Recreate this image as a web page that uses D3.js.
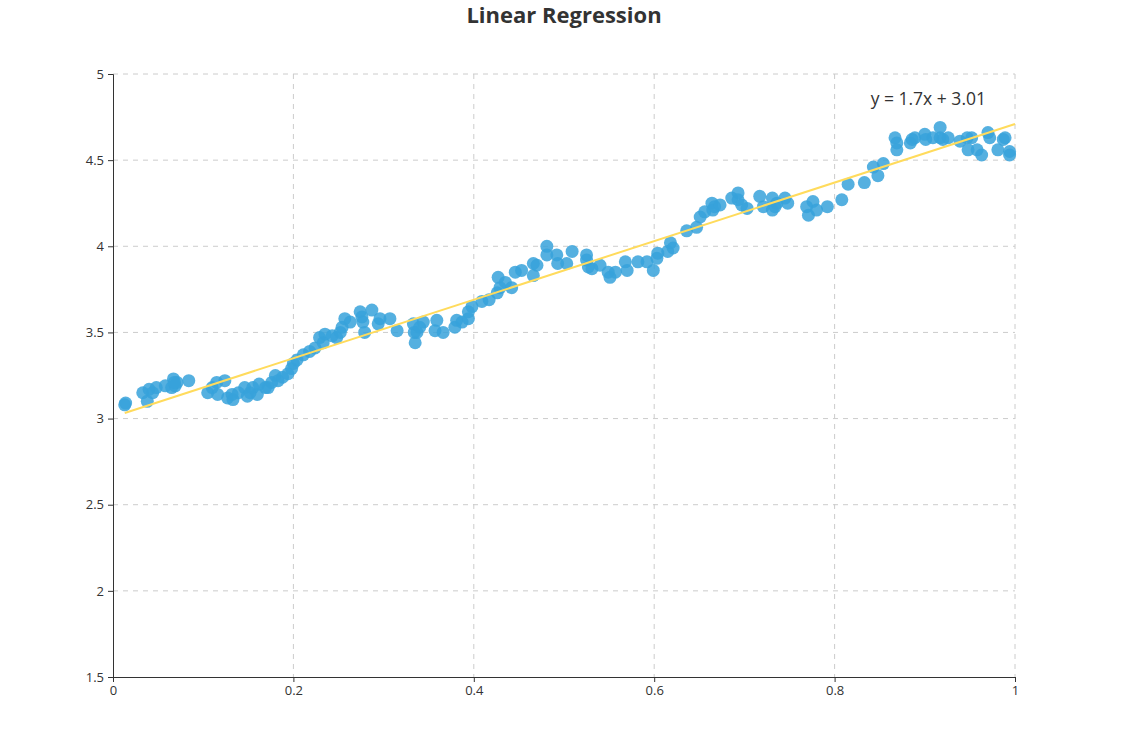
<!DOCTYPE html>
<html><head><meta charset="utf-8">
<script src="https://cdn.jsdelivr.net/npm/d3@7"></script>
<style>body{margin:0;background:#fff;} svg{display:block;font-family:"Open Sans","Noto Sans",sans-serif;}</style>
</head><body>
<svg id="c" width="1127" height="752"></svg>
<script>
const xValues = [0.013,0.014,0.033,0.038,0.040,0.044,0.048,0.058,0.065,0.067,0.069,0.071,0.068,0.084,0.105,0.110,0.115,0.116,0.124,0.127,0.133,0.132,0.139,0.146,0.149,0.152,0.155,0.160,0.162,0.169,0.172,0.176,0.180,0.183,0.188,0.194,0.198,0.200,0.204,0.211,0.218,0.224,0.229,0.235,0.233,0.243,0.248,0.252,0.254,0.257,0.263,0.274,0.276,0.277,0.279,0.287,0.294,0.296,0.307,0.315,0.333,0.334,0.335,0.337,0.340,0.344,0.357,0.359,0.366,0.379,0.381,0.387,0.394,0.394,0.398,0.409,0.417,0.426,0.427,0.429,0.435,0.442,0.446,0.453,0.466,0.466,0.470,0.481,0.481,0.492,0.493,0.503,0.509,0.525,0.525,0.527,0.531,0.540,0.549,0.551,0.557,0.568,0.570,0.582,0.592,0.599,0.603,0.604,0.615,0.618,0.621,0.636,0.647,0.651,0.656,0.664,0.665,0.667,0.673,0.686,0.693,0.693,0.697,0.703,0.717,0.721,0.731,0.731,0.734,0.736,0.745,0.748,0.769,0.771,0.776,0.780,0.792,0.808,0.815,0.833,0.843,0.848,0.854,0.867,0.869,0.869,0.884,0.886,0.889,0.900,0.901,0.909,0.917,0.917,0.920,0.926,0.939,0.947,0.948,0.952,0.958,0.963,0.970,0.972,0.981,0.987,0.989,0.994,0.994];
const yValues = [3.08,3.09,3.15,3.10,3.17,3.15,3.18,3.19,3.18,3.23,3.19,3.21,3.21,3.22,3.15,3.18,3.21,3.14,3.22,3.12,3.11,3.14,3.15,3.18,3.13,3.15,3.18,3.14,3.20,3.18,3.18,3.21,3.25,3.22,3.24,3.26,3.29,3.32,3.34,3.37,3.39,3.41,3.47,3.49,3.44,3.48,3.47,3.50,3.53,3.58,3.56,3.62,3.59,3.56,3.50,3.63,3.55,3.58,3.58,3.51,3.55,3.50,3.44,3.50,3.53,3.56,3.51,3.57,3.50,3.53,3.57,3.56,3.58,3.62,3.65,3.68,3.69,3.73,3.82,3.76,3.79,3.76,3.85,3.86,3.90,3.83,3.89,4.00,3.95,3.95,3.90,3.90,3.97,3.95,3.92,3.88,3.87,3.89,3.85,3.82,3.85,3.91,3.86,3.91,3.91,3.86,3.93,3.96,3.97,4.02,3.99,4.09,4.11,4.17,4.20,4.25,4.21,4.23,4.24,4.28,4.31,4.27,4.24,4.22,4.29,4.23,4.28,4.21,4.23,4.25,4.28,4.25,4.23,4.18,4.26,4.21,4.23,4.27,4.36,4.37,4.46,4.41,4.48,4.63,4.60,4.56,4.60,4.62,4.63,4.65,4.62,4.63,4.69,4.63,4.62,4.63,4.61,4.63,4.56,4.63,4.56,4.53,4.66,4.63,4.56,4.62,4.63,4.55,4.53];
const slope = 1.7, intercept = 3.01;
const equationLabel = "y = 1.7x + 3.01";
const titleText = "Linear Regression";
const xTicks = [0,0.2,0.4,0.6,0.8,1];
const yTicks = [1.5,2,2.5,3,3.5,4,4.5,5];

const svg = d3.select("#c");
const L=113,R=1015,T=74,B=677;
const x = d3.scaleLinear().domain([0,1]).range([L,R]);
const y = d3.scaleLinear().domain([1.5,5]).range([B,T]);

// grid
const g = svg.append("g");
g.selectAll(".gx").data(xTicks.slice(1)).enter().append("line")
  .attr("x1",d=>x(d)).attr("x2",d=>x(d)).attr("y1",T).attr("y2",B)
  .attr("stroke","#ccc").attr("stroke-dasharray","5,5");
g.selectAll(".gy").data(yTicks.slice(1)).enter().append("line")
  .attr("x1",L).attr("x2",R).attr("y1",d=>y(d)).attr("y2",d=>y(d))
  .attr("stroke","#ccc").attr("stroke-dasharray","5,5");

// axes
const xa = svg.append("g").attr("transform",`translate(0,${B})`)
  .call(d3.axisBottom(x).tickValues(xTicks).tickFormat(d3.format("~g")).tickSizeOuter(0).tickSize(5).tickPadding(4));
const ya = svg.append("g").attr("transform",`translate(${L},0)`)
  .call(d3.axisLeft(y).tickValues(yTicks).tickFormat(d3.format("~g")).tickSizeOuter(0).tickSize(5).tickPadding(4));
[xa,ya].forEach(a=>{
  a.selectAll("path,line").attr("stroke","#333").attr("stroke-width",1);
  a.selectAll("text").attr("fill","#333").style("font-size","13px").style("font-family",'"Open Sans","Noto Sans",sans-serif');
});

// points
const pts = xValues.map((v,i)=>({x:v,y:yValues[i]}));
svg.append("g").selectAll("circle").data(pts).enter().append("circle")
  .attr("cx",d=>x(d.x)).attr("cy",d=>y(d.y)).attr("r",6.5)
  .attr("fill","#37a2da").attr("fill-opacity",0.85);

// regression line
const ext = d3.extent(xValues);
svg.append("line")
  .attr("x1",x(ext[0])).attr("y1",y(slope*ext[0]+intercept))
  .attr("x2",x(1)).attr("y2",y(slope*1+intercept))
  .attr("stroke","#ffdb5c").attr("stroke-width",2);

// equation
svg.append("text").attr("x",986).attr("y",105).attr("text-anchor","end")
  .attr("fill","#333").style("font-size","17.5px").text(equationLabel);

// title
svg.append("text").attr("x",564).attr("y",23).attr("text-anchor","middle")
  .attr("fill","#333").style("font-size","22px").style("font-weight","bold").text(titleText);
</script>
</body></html>
